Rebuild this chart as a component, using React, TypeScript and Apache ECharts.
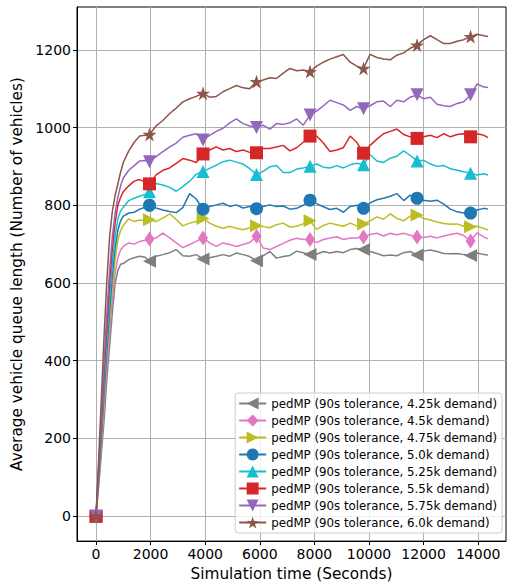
import React, { useEffect, useRef } from "react";
import * as echarts from "echarts";

// Simulation time (s) at which the queue length was sampled
const TIME = [
  0, 100, 200, 300, 400, 500, 600, 700, 800, 900, 1000, 1200, 1400, 1600, 1800,
  1960, 2200, 2450, 2700, 2940, 3180, 3430, 3670, 3920, 4160,
  4410, 4650, 4900, 5140, 5390, 5630, 5880, 6120, 6370, 6610,
  6860, 7100, 7350, 7590, 7840, 8080, 8330, 8570, 8820, 9060,
  9310, 9550, 9800, 10040, 10290, 10530, 10780, 11020, 11270, 11510,
  11760, 12000, 12250, 12490, 12740, 12980, 13230, 13470, 13720, 13960,
  14210, 14360,
];

// Average vehicle queue length per demand level
const Q_425 = [
  0, 80, 165, 250, 355, 440, 525, 600, 632, 648, 650, 660, 665, 669, 666,
  656, 669, 673, 678, 686, 670, 669, 673, 662, 665,
  669, 673, 669, 677, 673, 668, 657, 670, 681, 664,
  668, 671, 682, 678, 673, 674, 681, 677, 681, 678,
  686, 689, 686, 681, 676, 670, 672, 670, 678, 681,
  672, 682, 685, 681, 676, 675, 676, 673, 671, 677,
  673, 672,
];
const Q_450 = [
  0, 90, 185, 280, 385, 475, 560, 625, 665, 685, 694, 703, 700, 707, 710,
  713, 716, 728, 716, 703, 691, 699, 707, 716, 703,
  694, 703, 699, 694, 699, 704, 720, 690, 686, 694,
  702, 710, 715, 712, 712, 704, 712, 716, 719, 712,
  716, 716, 718, 725, 728, 721, 728, 724, 728, 723,
  718, 717, 720, 716, 721, 725, 728, 722, 708, 729,
  718, 714,
];
const Q_475 = [
  0, 95, 195, 300, 410, 505, 590, 660, 710, 735, 748, 765, 758, 762, 760,
  763, 758, 767, 778, 763, 747, 754, 758, 766, 754,
  746, 741, 746, 741, 737, 742, 747, 745, 742, 750,
  754, 744, 746, 752, 760, 738, 748, 754, 750, 746,
  754, 747, 752, 760, 770, 764, 778, 766, 760, 772,
  775, 766, 762, 757, 753, 751, 752, 746, 745, 746,
  740, 736,
];
const Q_500 = [
  0, 100, 210, 320, 430, 530, 620, 690, 735, 760, 772, 780, 782, 790, 795,
  800, 793, 788, 784, 781, 794, 830, 816, 790, 797,
  801, 805, 797, 801, 793, 797, 791, 797, 801, 797,
  798, 790, 792, 800, 813, 804, 796, 789, 792, 782,
  797, 800, 792, 806, 814, 818, 823, 830, 812, 826,
  818, 813, 810, 813, 803, 790, 783, 780, 780, 788,
  792, 790,
];
const Q_525 = [
  0, 110, 225, 345, 455, 560, 650, 720, 765, 785, 795, 812, 818, 823, 828,
  835, 856, 852, 846, 836, 848, 862, 880, 887, 895,
  903, 912, 916, 911, 906, 894, 879, 887, 899, 902,
  884, 884, 893, 896, 900, 906, 898, 896, 902, 896,
  904, 908, 904, 930, 914, 910, 921, 926, 940, 928,
  914, 916, 906, 900, 902, 894, 890, 886, 882, 878,
  881, 878,
];
const Q_550 = [
  0, 120, 245, 375, 490, 600, 690, 755, 800, 820, 835, 850, 862, 866, 860,
  855, 878, 890, 896, 908, 920, 916, 910, 932, 942,
  950, 942, 946, 938, 942, 936, 935, 946, 946, 950,
  954, 940, 948, 962, 978, 978, 960, 938, 942, 948,
  978, 962, 934, 954, 970, 984, 990, 996, 982, 976,
  972, 976, 980, 974, 984, 976, 982, 984, 976, 984,
  980, 974,
];
const Q_575 = [
  0, 130, 265, 400, 525, 635, 720, 780, 820, 850, 870, 890, 902, 914, 915,
  912, 925, 938, 950, 960, 975, 980, 984, 968, 980,
  990, 998, 1012, 1022, 1010, 1004, 1000, 1006, 996, 1010,
  1008, 1012, 1022, 1006, 1032, 1042, 1056, 1070, 1064, 1058,
  1044, 1054, 1048, 1056, 1066, 1068, 1054, 1070, 1066, 1078,
  1084, 1074, 1078, 1060, 1056, 1054, 1062, 1066, 1084, 1112,
  1104, 1103,
];
const Q_600 = [
  0, 150, 310, 470, 610, 720, 785, 825, 855, 885, 910, 940, 962, 978, 980,
  982, 1004, 1018, 1036, 1050, 1066, 1074, 1080, 1088, 1078,
  1080, 1092, 1100, 1108, 1102, 1100, 1118, 1122, 1128, 1126,
  1140, 1152, 1146, 1148, 1144, 1158, 1168, 1176, 1182, 1188,
  1168, 1158, 1152, 1188, 1180, 1176, 1174, 1186, 1192, 1204,
  1212, 1226, 1236, 1226, 1216, 1216, 1222, 1226, 1234, 1240,
  1236, 1234,
];

// Sample indices that carry a marker
const MARKER_INDEX = [0, 15, 23, 31, 39, 47, 55, 63];

const X_TICKS = [0, 2000, 4000, 6000, 8000, 10000, 12000, 14000];
const Y_TICKS = [0, 200, 400, 600, 800, 1000, 1200];

const FONT = "DejaVu Sans";

// Five-pointed star marker outline
function starSymbol(): string {
  const pts: string[] = [];
  for (let i = 0; i < 10; i++) {
    const r = i % 2 === 0 ? 50 : 19.1;
    const a = -Math.PI / 2 + (i * Math.PI) / 5;
    pts.push(`${(50 + r * Math.cos(a)).toFixed(2)},${(50 + r * Math.sin(a)).toFixed(2)}`);
  }
  return "path://M" + pts.join(" L") + " Z";
}

type Spec = {
  name: string;
  color: string;
  values: number[];
  symbol: string;
  rotate: number;
  size: number | number[];
};

const SPECS: Spec[] = [
  { name: "pedMP (90s tolerance, 4.25k demand)", color: "#7f7f7f", values: Q_425, symbol: "triangle", rotate: 90, size: 13 },
  { name: "pedMP (90s tolerance, 4.5k demand)", color: "#e377c2", values: Q_450, symbol: "diamond", rotate: 0, size: [10, 15] },
  { name: "pedMP (90s tolerance, 4.75k demand)", color: "#bcbd22", values: Q_475, symbol: "triangle", rotate: -90, size: 13 },
  { name: "pedMP (90s tolerance, 5.0k demand)", color: "#1f77b4", values: Q_500, symbol: "circle", rotate: 0, size: 13 },
  { name: "pedMP (90s tolerance, 5.25k demand)", color: "#17becf", values: Q_525, symbol: "triangle", rotate: 0, size: 13 },
  { name: "pedMP (90s tolerance, 5.5k demand)", color: "#d62728", values: Q_550, symbol: "rect", rotate: 0, size: 13 },
  { name: "pedMP (90s tolerance, 5.75k demand)", color: "#9467bd", values: Q_575, symbol: "triangle", rotate: 180, size: 13 },
  { name: "pedMP (90s tolerance, 6.0k demand)", color: "#8c564b", values: Q_600, symbol: starSymbol(), rotate: 0, size: 14 },
];

export default function App() {
  const ref = useRef<HTMLDivElement>(null);

  useEffect(() => {
    if (!ref.current) return;
    const chart = echarts.init(ref.current, undefined, { renderer: "svg" });

    const series = SPECS.map((s) => ({
      type: "line",
      name: s.name,
      color: s.color,
      symbol: s.symbol,
      symbolSize: s.size,
      symbolRotate: s.rotate,
      showSymbol: true,
      lineStyle: { color: s.color, width: 1.5 },
      itemStyle: { color: s.color, borderWidth: 0 },
      data: TIME.map((t, i) =>
        MARKER_INDEX.includes(i)
          ? { value: [t, s.values[i]] }
          : { value: [t, s.values[i]], symbol: "none" }
      ),
    }));

    const tickText = { color: "#000", fontSize: 14, fontFamily: FONT };
    const nameText = { color: "#000", fontSize: 15.3, fontFamily: FONT };
    const plain = (v: number) => String(v);

    chart.setOption({
      animation: false,
      backgroundColor: "#fff",
      grid: {
        left: 77,
        right: 1,
        top: 7,
        bottom: 43,
        show: true,
        borderColor: "#000",
        borderWidth: 1,
      },
      xAxis: {
        type: "value",
        min: -696,
        max: 15018,
        axisLine: { show: true, onZero: false, lineStyle: { color: "#000", width: 1 } },
        axisTick: { show: true, length: 4, lineStyle: { color: "#000" }, customValues: X_TICKS },
        axisLabel: { ...tickText, margin: 6, customValues: X_TICKS, formatter: plain },
        splitLine: { show: true, lineStyle: { color: "#b0b0b0", width: 1 } },
        name: "Simulation time (Seconds)",
        nameLocation: "middle",
        nameGap: 23,
        nameTextStyle: { ...nameText },
      },
      yAxis: {
        type: "value",
        min: -64,
        max: 1310,
        axisLine: { show: true, onZero: false, lineStyle: { color: "#000", width: 1 } },
        axisTick: { show: true, length: 4, lineStyle: { color: "#000" }, customValues: Y_TICKS },
        axisLabel: { ...tickText, margin: 6, customValues: Y_TICKS, formatter: plain },
        splitLine: { show: true, lineStyle: { color: "#b0b0b0", width: 1 } },
        name: "Average vehicle queue length (Number of vehicles)",
        nameLocation: "middle",
        nameGap: 52,
        nameTextStyle: { ...nameText },
      },
      legend: {
        orient: "vertical",
        right: 5,
        bottom: 53,
        itemWidth: 27,
        itemHeight: 15,
        itemGap: 2,
        padding: [3, 5, 3, 3],
        backgroundColor: "rgba(255,255,255,0.8)",
        borderColor: "#cccccc",
        borderWidth: 1,
        borderRadius: 3,
        textStyle: { color: "#000", fontSize: 11.8, lineHeight: 15, fontFamily: FONT },
        data: SPECS.map((s) => s.name),
      },
      series,
    });

    return () => chart.dispose();
  }, []);

  return (
    <div
      ref={ref}
      style={{ position: "fixed", left: 0, top: 0, width: 507, height: 586 }}
    />
  );
}
